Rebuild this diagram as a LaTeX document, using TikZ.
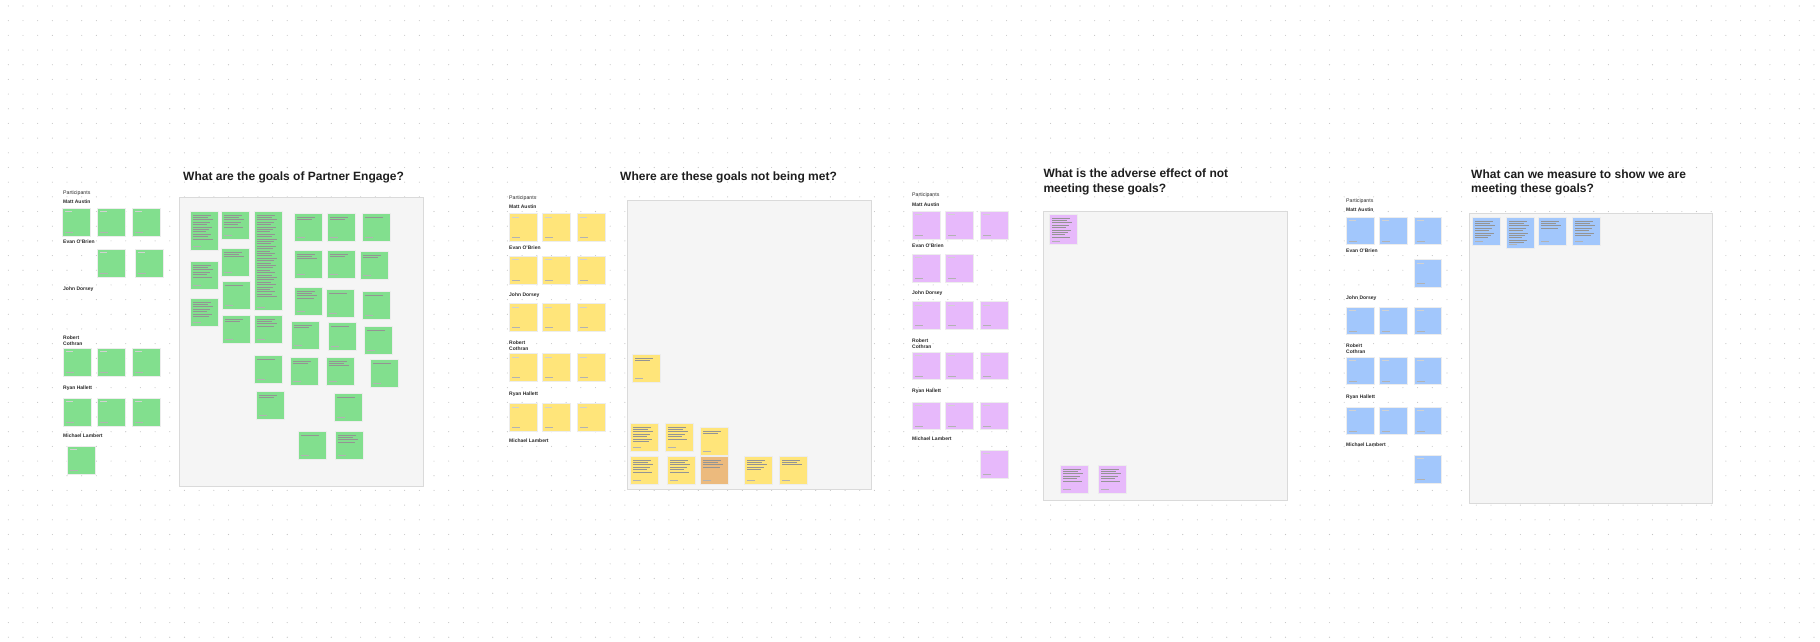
\documentclass[tikz,border=0pt]{standalone}
\usepackage{fontspec}
\setmainfont{Liberation Sans}

\definecolor{gridDot}{HTML}{C4C4C4}
\definecolor{boardFill}{HTML}{F5F5F5}
\definecolor{boardLine}{HTML}{DADADA}
\definecolor{titleInk}{HTML}{1E1E1E}
\definecolor{labelInk}{HTML}{2B2B2B}
\definecolor{stickGreen}{HTML}{82DF8E}
\definecolor{stickYellow}{HTML}{FFE57A}
\definecolor{stickOrange}{HTML}{ECBA7D}
\definecolor{stickPurple}{HTML}{E7B9FB}
\definecolor{stickBlue}{HTML}{A2C7FC}

\tikzset{%
	every node/.style = {font = \rmfamily},
	board/.style = {rectangle, draw = boardLine, fill = boardFill, line width = 0.6pt},
	title/.style = {anchor = base west, inner sep = 0pt, text = titleInk, font = \bfseries\fontsize{12}{14.6}\selectfont},
	heading/.style = {anchor = base west, inner sep = 0pt, text = labelInk, font = \fontsize{5.2}{6}\selectfont},
	person/.style = {heading, font = \bfseries\fontsize{5}{6}\selectfont},
	note/.style = {rectangle, anchor = north west, inner sep = 0pt, minimum width = 27.5pt, minimum height = 27.5pt, draw = black!7, line width = 0.4pt},
	notetext/.style = {draw = black!42, line width = 0.55pt},
	notehead/.style = {draw = black!18, line width = 0.5pt},
	notefoot/.style = {draw = black!30, line width = 0.5pt}
}
\tikzset{%
	green/.style = {note, fill = stickGreen},
	yellow/.style = {note, fill = stickYellow},
	orange/.style = {note, fill = stickOrange},
	purple/.style = {note, fill = stickPurple},
	blue/.style = {note, fill = stickBlue}
}

% name, style, x, y, height, text lines
\newcommand{\note}[6]{%
	\node[#2, minimum height = #5pt] (#1) at (#3,#4) {};
	\ifnum#6>0
		\foreach \k [evaluate = \k as \lw using {13+mod(\k*5,8)}] in {1,...,#6}
			\draw[notetext] ([xshift = 3pt, yshift = -1.4pt-\k*2.4pt]#1.north west) -- ++(\lw pt,0);
	\else
		\draw[notehead] ([xshift = 3pt, yshift = -3.5pt]#1.north west) -- ++(7pt,0);
	\fi
	\draw[notefoot] ([xshift = 3pt, yshift = 3.5pt]#1.south west) -- ++(8pt,0);
}

\begin{document}
\begin{tikzpicture}[x = 1pt, y = -1pt]
	\useasboundingbox (0,0) rectangle (1820,642);
	\fill[white] (0,0) rectangle (1820,642);
	\foreach \i in {0,...,123}
		\foreach \j in {0,...,43}
			\fill[gridDot] ({8.3+\i*14.68},{6+\j*14.68}) circle (0.55pt);

	% goals
	\node[title] (title1) at (183,180.7) {What are the goals of Partner Engage?};
	\node[board, minimum width = 244pt, minimum height = 289pt, anchor = north west] (board1) at (179,197) {};
	\node[heading] (parts1) at (63,194.2) {Participants};
	\node[person] (matt1) at (63,203.6) {Matt Austin};
	\node[person] (evan1) at (63,243.6) {Evan O'Brien};
	\node[person] (john1) at (63,290.9) {John Dorsey};
	\node[person] (robert1) at (63,339.2) {Robert};
	\node[person] (cothran1) at (63,345.2) {Cothran};
	\node[person] (ryan1) at (63,389.6) {Ryan Hallett};
	\node[person] (michael1) at (63,437.9) {Michael Lambert};
	\note{gm1}{green}{62}{208}{27.5}{0}
	\note{gm2}{green}{97}{208}{27.5}{0}
	\note{gm3}{green}{132}{208}{27.5}{0}
	\note{ge1}{green}{97}{249}{27.5}{0}
	\note{ge2}{green}{135}{249}{27.5}{0}
	\note{gr1}{green}{63}{348}{27.5}{0}
	\note{gr2}{green}{97}{348}{27.5}{0}
	\note{gr3}{green}{132}{348}{27.5}{0}
	\note{gh1}{green}{63}{398}{27.5}{0}
	\note{gh2}{green}{97}{398}{27.5}{0}
	\note{gh3}{green}{132}{398}{27.5}{0}
	\note{gl1}{green}{67}{446}{27.5}{0}
	\note{ga1}{green}{190}{211}{38.5}{11}
	\note{ga2}{green}{190}{261}{27.5}{6}
	\note{ga3}{green}{190}{298}{27.5}{7}
	\note{gb1}{green}{221}{211}{27.5}{6}
	\note{gb2}{green}{221}{248}{27.5}{3}
	\note{gb3}{green}{222}{281}{27.5}{1}
	\note{gb4}{green}{222}{315}{27.5}{2}
	\note{gc1}{green}{254}{211}{99}{35}
	\note{gc2}{green}{254}{315}{27.5}{4}
	\note{gc3}{green}{254}{355}{27.5}{1}
	\note{gc4}{green}{256}{391}{27.5}{2}
	\note{gd1}{green}{294}{213}{27.5}{2}
	\note{gd2}{green}{294}{250}{27.5}{3}
	\note{gd3}{green}{294}{287}{27.5}{4}
	\note{gd4}{green}{291}{321}{27.5}{2}
	\note{gd5}{green}{290}{357}{27.5}{2}
	\note{gd6}{green}{298}{431}{27.5}{1}
	\note{gf1}{green}{327}{213}{27.5}{2}
	\note{gf2}{green}{327}{250}{27.5}{2}
	\note{gf3}{green}{326}{289}{27.5}{1}
	\note{gf4}{green}{328}{322}{27.5}{1}
	\note{gf5}{green}{326}{357}{27.5}{3}
	\note{gf6}{green}{334}{393}{27.5}{1}
	\note{gf7}{green}{335}{431}{27.5}{4}
	\note{gg1}{green}{362}{213}{27.5}{1}
	\note{gg2}{green}{360}{251}{27.5}{2}
	\note{gg3}{green}{362}{291}{27.5}{1}
	\note{gg4}{green}{364}{326}{27.5}{1}
	\note{gg5}{green}{370}{359}{27.5}{1}

	% not met
	\node[title] (title2) at (620,180.7) {Where are these goals not being met?};
	\node[board, minimum width = 244pt, minimum height = 289pt, anchor = north west] (board2) at (627,200) {};
	\node[heading] (parts2) at (509,199.2) {Participants};
	\node[person] (matt2) at (509,208.6) {Matt Austin};
	\node[person] (evan2) at (509,249.6) {Evan O'Brien};
	\node[person] (john2) at (509,296.2) {John Dorsey};
	\node[person] (robert2) at (509,344.6) {Robert};
	\node[person] (cothran2) at (509,350.2) {Cothran};
	\node[person] (ryan2) at (509,395.2) {Ryan Hallett};
	\node[person] (michael2) at (509,442.9) {Michael Lambert};
	\foreach \r/\ry in {m/213.3, e/256, j/303.3, r/353.3, h/403.3}
		\foreach \c/\cx in {1/509.3, 2/542.3, 3/577.3}
			{\note{y\r\c}{yellow}{\cx}{\ry}{27.5}{0}}
	\note{ys1}{yellow}{632}{354}{27.5}{2}
	\note{ys2}{yellow}{630}{423}{27.5}{7}
	\note{ys3}{yellow}{665}{423}{27.5}{6}
	\note{ys4}{yellow}{700}{427}{27.5}{2}
	\note{ys5}{yellow}{630}{456}{27.5}{6}
	\note{ys6}{yellow}{667}{456}{27.5}{6}
	\note{ys7}{orange}{700}{456}{27.5}{4}
	\note{ys8}{yellow}{744}{456}{27.5}{5}
	\note{ys9}{yellow}{779}{456}{27.5}{3}

	% adverse effect
	\node[title] (title3a) at (1043.3,177.8) {What is the adverse effect of not};
	\node[title] (title3b) at (1043.3,192.4) {meeting these goals?};
	\node[board, minimum width = 244pt, minimum height = 289pt, anchor = north west] (board3) at (1043,211) {};
	\node[heading] (parts3) at (912,196.9) {Participants};
	\node[person] (matt3) at (912,206.2) {Matt Austin};
	\node[person] (evan3) at (912,247.6) {Evan O'Brien};
	\node[person] (john3) at (912,294.2) {John Dorsey};
	\node[person] (robert3) at (912,342.9) {Robert};
	\node[person] (cothran3) at (912,348.6) {Cothran};
	\node[person] (ryan3) at (912,392.9) {Ryan Hallett};
	\node[person] (michael3) at (912,440.9) {Michael Lambert};
	\note{pm1}{purple}{912.3}{211}{27.5}{0}
	\note{pm2}{purple}{945}{211}{27.5}{0}
	\note{pm3}{purple}{980}{211}{27.5}{0}
	\note{pe1}{purple}{912.3}{254}{27.5}{0}
	\note{pe2}{purple}{945}{254}{27.5}{0}
	\note{pj1}{purple}{912.3}{301.3}{27.5}{0}
	\note{pj2}{purple}{945}{301.3}{27.5}{0}
	\note{pj3}{purple}{980}{301.3}{27.5}{0}
	\note{pr1}{purple}{912.3}{351.7}{27.5}{0}
	\note{pr2}{purple}{945}{351.7}{27.5}{0}
	\note{pr3}{purple}{980}{351.7}{27.5}{0}
	\note{ph1}{purple}{912.3}{401.7}{27.5}{0}
	\note{ph2}{purple}{945}{401.7}{27.5}{0}
	\note{ph3}{purple}{980}{401.7}{27.5}{0}
	\note{pl3}{purple}{980}{450}{27.5}{0}
	\note{pa1}{purple}{1049}{214}{30}{9}
	\note{pa2}{purple}{1060}{465}{27.5}{6}
	\note{pa3}{purple}{1098}{465}{27.5}{6}

	% measure
	\node[title] (title4a) at (1471,178) {What can we measure to show we are};
	\node[title] (title4b) at (1471,192.6) {meeting these goals?};
	\node[board, minimum width = 243pt, minimum height = 290pt, anchor = north west] (board4) at (1469,213) {};
	\node[heading] (parts4) at (1346,202.9) {Participants};
	\node[person] (matt4) at (1346,211.9) {Matt Austin};
	\node[person] (evan4) at (1346,252.9) {Evan O'Brien};
	\node[person] (john4) at (1346,299.6) {John Dorsey};
	\node[person] (robert4) at (1346,347.9) {Robert};
	\node[person] (cothran4) at (1346,353.6) {Cothran};
	\node[person] (ryan4) at (1346,398.6) {Ryan Hallett};
	\node[person] (michael4) at (1346,446.9) {Michael Lambert};
	\note{bm1}{blue}{1346}{216.7}{27.5}{0}
	\note{bm2}{blue}{1379}{216.7}{27.5}{0}
	\note{bm3}{blue}{1413.7}{216.7}{27.5}{0}
	\note{be3}{blue}{1413.7}{259.3}{27.5}{0}
	\note{bj1}{blue}{1346}{306.7}{27.5}{0}
	\note{bj2}{blue}{1379}{306.7}{27.5}{0}
	\note{bj3}{blue}{1413.7}{306.7}{27.5}{0}
	\note{br1}{blue}{1346}{356.7}{27.5}{0}
	\note{br2}{blue}{1379}{356.7}{27.5}{0}
	\note{br3}{blue}{1413.7}{356.7}{27.5}{0}
	\note{bh1}{blue}{1346}{406.7}{27.5}{0}
	\note{bh2}{blue}{1379}{406.7}{27.5}{0}
	\note{bh3}{blue}{1413.7}{406.7}{27.5}{0}
	\note{bl3}{blue}{1413.7}{455}{27.5}{0}
	\note{ba1}{blue}{1472}{217}{27.5}{8}
	\note{ba2}{blue}{1506}{217}{30.5}{10}
	\note{ba3}{blue}{1538}{217}{27.5}{4}
	\note{ba4}{blue}{1572}{217}{27.5}{7}
\end{tikzpicture}
\end{document}
